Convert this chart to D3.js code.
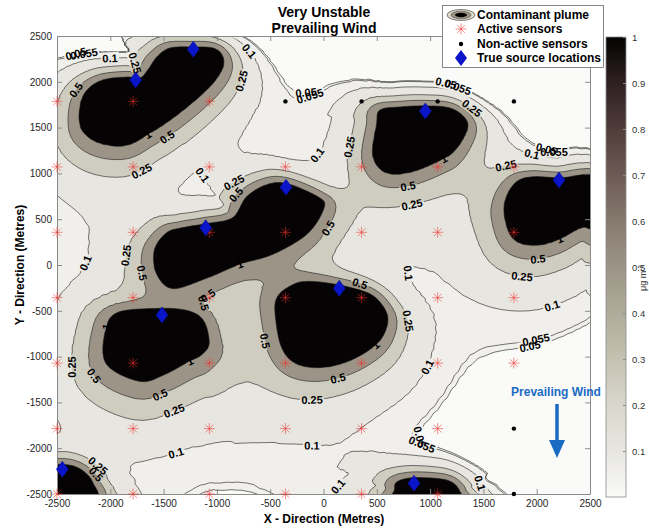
<!DOCTYPE html>
<html><head><meta charset="utf-8">
<script src="https://cdn.jsdelivr.net/npm/d3@7"></script>
<style>
body{margin:0;background:#fff}
svg{display:block}
text{font-family:"Liberation Sans",Arial,Helvetica,sans-serif}
</style>
</head><body>
<svg id="chart" width="649" height="529"></svg>
<script>
// ---------------- data ----------------
const xTicks = [-2500,-2000,-1500,-1000,-500,0,500,1000,1500,2000,2500];
const yTicks = [-2500,-2000,-1500,-1000,-500,0,500,1000,1500,2000,2500];
const cbTicks = [0.1,0.2,0.3,0.4,0.5,0.6,0.7,0.8,0.9,1];
const cbStopValue = [0,0.1,0.2,0.3,0.4,0.5,0.6,0.7,0.8,0.9,1];
const cbStopColor = ["#fafaf8","#e7e6e0","#d9d7cd","#c5c2b2","#b0ab9a","#9c9587","#857a6d","#6e5a55","#503c3a","#2e2020","#050303"];
const contourLevels = [0.05,0.055,0.1,0.25,0.5,1];

// true source locations (m)
const sourceX = [-1222,-1762,-352,-1105,955,2209,148,-1515,-2450,849];
const sourceY = [2355,2020,848,407,1681,928,-255,-546,-2231,-2383];

// sensor grid (m) and the sensors that were not active
const sensorGridX = [-2500,-1786,-1071,-357,357,1071,1786];
const sensorGridY = [1786,1071,357,-357,-1071,-1786,-2500];
const inactiveX = [-357,357,1071,1786,1786,1786];
const inactiveY = [1786,1786,1786,1786,-1786,-2500];

// outlines of the plume cores (concentration >= 1), metres
const coreAx = [-2284,-2218,-2069,-1844,-1722,-1647,-1562,-1440,-1224,-1037,-952,-943,-1037,-1224,-1440,-1628,-1844,-2097,-2266];
const coreAy = [1725,1910,2020,2052,2041,2129,2271,2369,2380,2369,2293,2162,1987,1779,1583,1441,1310,1332,1474];
const coreBx = [-1581,-1468,-1318,-1102,-849,-718,-530,-343,-61,-4,-155,-474,-783,-1093,-1412,-1562];
const coreBy = [164,349,404,448,513,742,873,884,742,633,349,131,22,-131,-240,-87];
const coreCx = [-2031,-1909,-1506,-1187,-1093,-1150,-1281,-1500,-1722,-2031];
const coreCy = [-710,-524,-513,-568,-819,-950,-1037,-1180,-1255,-1070];
const coreDx = [-436,-408,-286,-155,89,408,558,596,502,248,-33,-267,-390];
const coreDy = [-524,-349,-240,-197,-218,-306,-459,-633,-851,-1037,-1113,-1059,-873];
const coreEx = [502,530,718,952,1187,1327,1346,1233,1093,811,577,464];
const coreEy = [1550,1692,1725,1736,1714,1605,1474,1255,1146,1016,1016,1201];
const coreFx = [1703,1722,1815,1966,2219,2594,2594,2434,2190,1966,1778];
const coreFy = [546,742,906,961,950,950,382,415,273,218,295];
const coreGx = [-2660,-2453,-2331,-2237,-2172,-2144,-2660];
const coreGy = [-2205,-2183,-2205,-2271,-2369,-2566,-2566];
const coreHx = [690,840,1093,1215,1280,1299,652,671];
const coreHy = [-2369,-2325,-2336,-2380,-2478,-2620,-2620,-2456];

// dispersion around each core (order A..H), lengths in metres
const nearUpwind   = [70,70,70,70,70,70,70,70];
const nearDownwind = [150,150,185,140,140,150,120,120];
const tailShare    = [0.28,0.28,0.28,0.28,0.28,0.28,0.28,0.28];
const tailUpwind   = [95,95,95,95,95,95,95,95];
const tailDownwind = [560,560,560,560,560,560,560,560];
const windDir = [-0.35, 0.94]; // drift direction on screen (x right, y down)

// contour labels: level and approximate place (m)
const labelLevel = [0.05,0.055,0.1,0.25,0.5,0.05,0.055,0.1,0.25,0.5,0.25,0.1,0.05,0.055,0.1,0.25,0.05,0.055,0.25,0.5,
  0.25,0.05,0.055,0.1,0.25,0.5,0.25,0.1,0.05,0.055,0.1,0.25,0.5,0.25,0.5,0.1,0.5,0.5,0.25,0.1,
  0.5,0.5,0.25,0.5,0.25,0.5,0.5,0.25,0.25,0.5,0.1,0.05,0.055,0.1,0.1,0.25,0.5,0.1,0.05,0.055,
  0.1,1,1,1,1,1,1,1];
const labelX = [-2285,-2210,-1984,-1759,-2285,-1065,-990,-765,-784,-1459,-1722,-1027,-155,-52,-52,230,1093,1205,1327,792,
  839,2031,2125,1937,1750,2003,1862,2143,1956,2003,-1600,-784,-774,-1787,-1694,-2144,-1093,33,-221,652,
  342,-1346,886,-643,-2378,-2172,-1553,-1421,-99,108,1036,905,980,-99,-1346,-2162,-2097,89,1093,1168,
  1393,-1656,-784,1121,2190,-1271,408,-1984];
const labelY = [2129,2151,2129,2194,1878,2380,2358,2271,2020,1386,1037,1059,1572,1605,1201,1288,1725,1714,1616,862,
  633,983,972,1016,928,109,-175,-404,-1037,-961,633,830,721,76,-87,0,-306,404,-109,-142,
  -240,-524,-579,-851,-1124,-1234,-1354,-1518,-1485,-1113,-1179,-1878,-1834,-1987,-2205,-2260,-2249,-2369,-2347,-2347,
  -2413,1452,22,1201,328,-1015,-764,-688];

// ---------------- layout ----------------
const svg = d3.select("#chart");
const plot = {l:57, r:590, t:36, b:494};
const xS = d3.scaleLinear().domain([-2500,2500]).range([plot.l, plot.r]);
const yS = d3.scaleLinear().domain([-2500,2500]).range([plot.b, plot.t]);
const cmap = d3.scaleLinear().domain(cbStopValue).range(cbStopColor).clamp(true);
const pxPerM = (xS(1000)-xS(0)+yS(0)-yS(1000))/2000;

// ---------------- concentration field ----------------
// closed Catmull-Rom spline through the outline points
function smoothRing(pts, seg){
  const out=[], n=pts.length;
  for(let i=0;i<n;i++){
    const p0=pts[(i-1+n)%n], p1=pts[i], p2=pts[(i+1)%n], p3=pts[(i+2)%n];
    for(let s=0;s<seg;s++){
      const t=s/seg, t2=t*t, t3=t2*t;
      const f=c=>0.5*(2*p1[c]+(-p0[c]+p2[c])*t+(2*p0[c]-5*p1[c]+4*p2[c]-p3[c])*t2+(-p0[c]+3*p1[c]-3*p2[c]+p3[c])*t3);
      out.push([f(0),f(1)]);
    }
  }
  return out;
}
const coreXs=[coreAx,coreBx,coreCx,coreDx,coreEx,coreFx,coreGx,coreHx];
const coreYs=[coreAy,coreBy,coreCy,coreDy,coreEy,coreFy,coreGy,coreHy];
const cores = coreXs.map((cx,k)=>smoothRing(cx.map((v,i)=>[xS(v), yS(coreYs[k][i])]),6));

function nearest(poly, px, py){
  let best=Infinity,bx=0,by=0;
  for(let i=0,n=poly.length;i<n;i++){
    const a=poly[i], b=poly[(i+1)%n];
    const dx=b[0]-a[0], dy=b[1]-a[1];
    let t=((px-a[0])*dx+(py-a[1])*dy)/(dx*dx+dy*dy||1);
    t=t<0?0:t>1?1:t;
    const cx=a[0]+t*dx, cy=a[1]+t*dy;
    const d=(px-cx)*(px-cx)+(py-cy)*(py-cy);
    if(d<best){best=d;bx=cx;by=cy;}
  }
  return [Math.sqrt(best),bx,by];
}

function coreValue(k, px, py){
  const [d,qx,qy]=nearest(cores[k],px,py);
  const lu=nearUpwind[k]*pxPerM, ld=nearDownwind[k]*pxPerM;
  if(d<1e-6 || d3.polygonContains(cores[k],[px,py])) return 1 + d/lu;
  const nx=(px-qx)/d, ny=(py-qy)/d;
  const t=(1+nx*windDir[0]+ny*windDir[1])/2;
  const lam=lu+(ld-lu)*t;
  const Lam=(tailUpwind[k]+(tailDownwind[k]-tailUpwind[k])*t)*pxPerM;
  const a=tailShare[k];
  return (1-a)*Math.exp(-d/lam)+a*Math.exp(-d/Lam);
}

const step=2, pad=10;
const gx0=plot.l-pad, gy0=plot.t-pad;
const nx=Math.ceil((plot.r-plot.l+2*pad)/step), ny=Math.ceil((plot.b-plot.t+2*pad)/step);
const values=new Float64Array(nx*ny);
for(let j=0;j<ny;j++){
  const py=gy0+(j+0.5)*step;
  for(let i=0;i<nx;i++){
    const px=gx0+(i+0.5)*step;
    let v=0;
    for(let k=0;k<cores.length;k++) v+=coreValue(k,px,py);
    values[j*nx+i]=v;
  }
}
const contours=d3.contours().size([nx,ny]).thresholds(contourLevels)(values);
const gridPath=d3.geoPath(d3.geoTransform({point(x,y){this.stream.point(gx0+x*step, gy0+y*step);}}));

// ---------------- drawing ----------------
const defs=svg.append("defs");
defs.append("clipPath").attr("id","plotClip").append("rect")
  .attr("x",plot.l).attr("y",plot.t).attr("width",plot.r-plot.l).attr("height",plot.b-plot.t);

const field=svg.append("g").attr("clip-path","url(#plotClip)");
field.append("rect").attr("x",plot.l).attr("y",plot.t).attr("width",plot.r-plot.l).attr("height",plot.b-plot.t)
  .attr("fill",cmap(0));
field.append("g").selectAll("path").data(contours).join("path")
  .attr("d",gridPath).attr("fill",d=>cmap(d.value)).attr("stroke","none");

// label gaps
const mask=defs.append("mask").attr("id","labelMask").attr("maskUnits","userSpaceOnUse")
  .attr("x",0).attr("y",0).attr("width",649).attr("height",529);
mask.append("rect").attr("x",0).attr("y",0).attr("width",649).attr("height",529).attr("fill","#fff");

field.append("g").attr("mask","url(#labelMask)").selectAll("path").data(contours).join("path")
  .attr("d",gridPath).attr("fill","none").attr("stroke","#1c1c1c").attr("stroke-width",0.6);

// contour labels snapped onto their lines
const ringsByLevel=new Map(contours.map(c=>[c.value, c.coordinates.flatMap(poly=>poly.map(r=>r.map(p=>[gx0+p[0]*step, gy0+p[1]*step])))]));
const labelLayer=field.append("g");
labelLevel.forEach((lv,i)=>{
  const tx=xS(labelX[i]), ty=yS(labelY[i]);
  const rings=ringsByLevel.get(lv)||[];
  let best=30*30, hit=null;
  rings.forEach(r=>r.forEach((p,k)=>{
    const d=(p[0]-tx)**2+(p[1]-ty)**2;
    if(d<best){best=d;hit=[r,k];}
  }));
  if(!hit) return;
  const [r,k]=hit, n=r.length;
  const p=r[k], a=r[(k-3+n)%n], b=r[(k+3)%n];
  let ang=Math.atan2(b[1]-a[1],b[0]-a[0])*180/Math.PI;
  if(ang>90) ang-=180; if(ang<-90) ang+=180;
  const tr=`translate(${p[0]},${p[1]}) rotate(${ang})`;
  const t=labelLayer.append("text").attr("transform",tr).attr("text-anchor","middle").attr("dy","0.36em")
    .attr("font-size",11).attr("font-weight","bold").attr("fill","#000").text(String(lv));
  const w=t.node().getComputedTextLength();
  mask.append("rect").attr("transform",tr).attr("x",-w/2-1.5).attr("y",-6).attr("width",w+3).attr("height",12).attr("fill","#000");
});

// axes
const axisColor="#8a8a8a";
const fmt=d=>String(d);
const gx=svg.append("g").attr("transform",`translate(0,${plot.b})`)
  .call(d3.axisBottom(xS).tickValues(xTicks).tickSize(-5).tickSizeOuter(0).tickPadding(6).tickFormat(fmt));
const gy=svg.append("g").attr("transform",`translate(${plot.l},0)`)
  .call(d3.axisLeft(yS).tickValues(yTicks).tickSize(-5).tickSizeOuter(0).tickPadding(5).tickFormat(fmt));
const gt=svg.append("g").attr("transform",`translate(0,${plot.t})`)
  .call(d3.axisTop(xS).tickValues(xTicks).tickSize(-5).tickSizeOuter(0).tickFormat(""));
const gr=svg.append("g").attr("transform",`translate(${plot.r},0)`)
  .call(d3.axisRight(yS).tickValues(yTicks).tickSize(-5).tickSizeOuter(0).tickFormat(""));
[gx,gy,gt,gr].forEach(g=>{
  g.selectAll(".domain").attr("stroke",axisColor);
  g.selectAll(".tick line").attr("stroke",axisColor);
  g.selectAll(".tick text").attr("fill","#262626").attr("font-size",10).attr("font-family","Liberation Sans, Arial, sans-serif");
});

// sensors
const active=[];
sensorGridY.forEach(sy=>sensorGridX.forEach(sx=>{
  const off=inactiveX.some((ix,i)=>ix===sx&&inactiveY[i]===sy);
  if(!off) active.push([sx,sy]);
}));
const star=(g,r)=>{ for(let a=0;a<4;a++){ const t=a*Math.PI/4;
  g.append("line").attr("x1",-r*Math.cos(t)).attr("y1",-r*Math.sin(t)).attr("x2",r*Math.cos(t)).attr("y2",r*Math.sin(t)); } };
const sensorG=svg.append("g").attr("stroke","#f0302a").attr("stroke-opacity",0.6).attr("stroke-width",0.9);
active.forEach(s=>{ const g=sensorG.append("g").attr("transform",`translate(${xS(s[0])},${yS(s[1])})`); star(g,5.5); });
svg.append("g").selectAll("circle").data(inactiveX).join("circle")
  .attr("cx",(d)=>xS(d)).attr("cy",(d,i)=>yS(inactiveY[i])).attr("r",2.2).attr("fill","#000");
const diamond="M0,-8L6,0L0,8L-6,0Z";
svg.append("g").selectAll("path").data(sourceX).join("path")
  .attr("d",diamond).attr("transform",(d,i)=>`translate(${xS(d)},${yS(sourceY[i])})`)
  .attr("fill","#0a14c8").attr("stroke","#08109a").attr("stroke-width",0.6);

// titles
const title=svg.append("g").attr("font-weight","bold").attr("font-size",14).attr("text-anchor","middle").attr("fill","#000");
title.append("text").attr("x",324).attr("y",17).text("Very Unstable");
title.append("text").attr("x",324).attr("y",33).text("Prevailing Wind");
svg.append("text").attr("x",324).attr("y",523).attr("text-anchor","middle").attr("font-weight","bold").attr("font-size",12).text("X - Direction (Metres)");
svg.append("text").attr("transform","translate(24,265) rotate(-90)").attr("text-anchor","middle").attr("font-weight","bold").attr("font-size",12).text("Y - Direction (Metres)");

// prevailing wind arrow
const blue="#1a6bc4";
svg.append("text").attr("x",556).attr("y",396).attr("text-anchor","middle").attr("font-weight","bold").attr("font-size",12).attr("fill",blue).text("Prevailing Wind");
svg.append("line").attr("x1",557).attr("y1",404).attr("x2",557).attr("y2",444).attr("stroke",blue).attr("stroke-width",3.5);
svg.append("path").attr("d","M549,440L565,440L557,458Z").attr("fill",blue);

// colorbar
const cb={x:606,y:37,w:20,h:460};
const grad=defs.append("linearGradient").attr("id","cbGrad").attr("x1",0).attr("y1",1).attr("x2",0).attr("y2",0);
cbStopValue.forEach((v,i)=>grad.append("stop").attr("offset",v).attr("stop-color",cbStopColor[i]));
svg.append("rect").attr("x",cb.x).attr("y",cb.y).attr("width",cb.w).attr("height",cb.h).attr("fill","url(#cbGrad)").attr("stroke","#8a8a8a").attr("stroke-width",0.8);
const cbS=d3.scaleLinear().domain([0,1]).range([cb.y+cb.h,cb.y]);
const gc=svg.append("g").attr("transform",`translate(${cb.x+cb.w},0)`)
  .call(d3.axisRight(cbS).tickValues(cbTicks).tickSize(-3).tickSizeOuter(0).tickPadding(6).tickFormat(fmt));
gc.select(".domain").remove();
gc.selectAll(".tick line").attr("stroke","#8a8a8a");
gc.selectAll(".tick text").attr("fill","#333").attr("font-size",9.5);
svg.append("text").attr("transform","translate(646,278) rotate(-90)").attr("text-anchor","middle").attr("font-size",9).attr("fill","#333")
  .html("μg m<tspan dy='-3' font-size='6.5'>-3</tspan>");

// legend
const lg=svg.append("g");
lg.append("rect").attr("x",442.5).attr("y",5.5).attr("width",161).attr("height",62).attr("fill","#fff").attr("stroke","#6a6a6a").attr("stroke-width",0.8);
const lx=461;
lg.append("ellipse").attr("cx",lx).attr("cy",15).attr("rx",14).attr("ry",5.5).attr("fill","#ddd9cc").attr("stroke","#333").attr("stroke-width",0.6);
lg.append("ellipse").attr("cx",lx).attr("cy",15).attr("rx",10).attr("ry",3.8).attr("fill","#9d9585").attr("stroke","#333").attr("stroke-width",0.5);
lg.append("ellipse").attr("cx",lx).attr("cy",15).attr("rx",6).attr("ry",2.2).attr("fill","#000");
const ls=lg.append("g").attr("transform",`translate(${lx},29)`).attr("stroke","#f0302a").attr("stroke-opacity",0.6).attr("stroke-width",0.9); star(ls,5.5);
lg.append("circle").attr("cx",lx).attr("cy",44).attr("r",2.2).attr("fill","#000");
lg.append("path").attr("d",diamond).attr("transform",`translate(${lx},58)`).attr("fill","#0a14c8");
["Contaminant plume","Active sensors","Non-active sensors","True source locations"].forEach((s,i)=>{
  lg.append("text").attr("x",477).attr("y",19+i*14.3).attr("font-weight","bold").attr("font-size",12).text(s);
});
</script>
</body></html>
